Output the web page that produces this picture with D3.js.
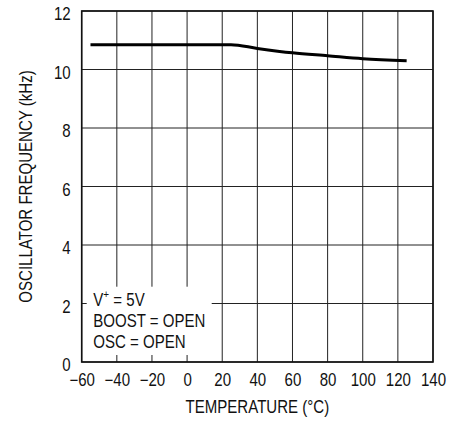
<!DOCTYPE html>
<html>
<head>
<meta charset="utf-8">
<script src="https://cdn.jsdelivr.net/npm/d3@7"></script>
<style>
body { margin: 0; background: #fff; }
text { font-family: "Liberation Sans", Arial, sans-serif; fill: #111; }
</style>
</head>
<body>
<div id="graphe"></div>
<script>
// donnees
var temperatures = [-55, -20, 0, 25, 40, 60, 80, 100, 125];
var frequences = [10.85, 10.85, 10.85, 10.85, 10.72, 10.57, 10.47, 10.37, 10.3];

var xTicks = [-60, -40, -20, 0, 20, 40, 60, 80, 100, 120, 140];
var yTicks = [0, 2, 4, 6, 8, 10, 12];
var legende = ["V+ = 5V", "BOOST = OPEN", "OSC = OPEN"];

var largeur = 464, hauteur = 421;
var marge = {gauche: 81.7, droite: 31, haut: 11, bas: 59};
var K = 0.86; // police etroite simulee
var taille = 17.5;

var svg = d3.select("#graphe").append("svg").attr("width", largeur).attr("height", hauteur);

var x = d3.scaleLinear().domain([-60, 140]).range([marge.gauche, largeur - marge.droite]);
var y = d3.scaleLinear().domain([0, 12]).range([hauteur - marge.bas, marge.haut]);

function texte(px, py, contenu) {
    return svg.append("text")
        .attr("transform", "translate(" + px + "," + py + ") scale(" + K + ",1)")
        .attr("font-size", taille)
        .text(contenu);
}

// grille
svg.append("g").selectAll("line").data(xTicks).enter().append("line")
    .attr("x1", function(d) { return x(d); }).attr("x2", function(d) { return x(d); })
    .attr("y1", y(0)).attr("y2", y(12))
    .attr("stroke", "#222").attr("stroke-width", 1);
svg.append("g").selectAll("line").data(yTicks).enter().append("line")
    .attr("x1", x(-60)).attr("x2", x(140))
    .attr("y1", function(d) { return y(d); }).attr("y2", function(d) { return y(d); })
    .attr("stroke", "#222").attr("stroke-width", 1);

// cadre de la legende (masque la grille)
svg.append("rect")
    .attr("x", x(-60) + 5).attr("y", 286.7)
    .attr("width", 125).attr("height", 68.3)
    .attr("fill", "#fff");

legende.forEach(function(t, i) {
    var txt = texte(93.3, 305.7 + i * 20.9, i == 0 ? null : t);
    if (i == 0) {
        txt.append("tspan").text("V");
        txt.append("tspan").attr("dy", -7.5).attr("font-size", 11.5).text("+");
        txt.append("tspan").attr("dy", 7.5).text(" = 5V");
    }
});

// cadre
svg.append("rect")
    .attr("x", x(-60)).attr("y", y(12))
    .attr("width", x(140) - x(-60)).attr("height", y(0) - y(12))
    .attr("fill", "none").attr("stroke", "#111").attr("stroke-width", 1.6);

// axes (texte seulement)
var axeX = svg.append("g").attr("transform", "translate(0," + y(0) + ")")
    .call(d3.axisBottom(x).tickValues(xTicks).tickSize(0).tickPadding(11.6)
        .tickFormat(function(d) { return d < 0 ? "\u2212" + Math.abs(d) : d; }));
axeX.select(".domain").remove();
axeX.selectAll("text").attr("font-size", taille).attr("font-family", null)
    .attr("transform", "scale(" + K + ",1)");

var axeY = svg.append("g").attr("transform", "translate(" + x(-60) + ",0)")
    .call(d3.axisLeft(y).tickValues(yTicks).tickSize(0).tickPadding(11 / K));
axeY.select(".domain").remove();
axeY.selectAll("text").attr("font-size", taille).attr("font-family", null)
    .attr("dy", "0.49em")
    .attr("transform", "scale(" + K + ",1)");

// courbe
var ligne = d3.line()
    .x(function(d, i) { return x(temperatures[i]); })
    .y(function(d) { return y(d); })
    .curve(d3.curveMonotoneX);
svg.append("path").datum(frequences)
    .attr("d", ligne)
    .attr("fill", "none").attr("stroke", "#000").attr("stroke-width", 3);

// titres
texte((x(-60) + x(140)) / 2, 412.7, "TEMPERATURE (\u00B0C)")
    .attr("text-anchor", "middle");
svg.append("text")
    .attr("transform", "translate(32," + ((y(0) + y(12)) / 2) + ") rotate(-90) scale(" + K + ",1)")
    .attr("text-anchor", "middle").attr("font-size", taille)
    .text("OSCILLATOR FREQUENCY (kHz)");
</script>
</body>
</html>
